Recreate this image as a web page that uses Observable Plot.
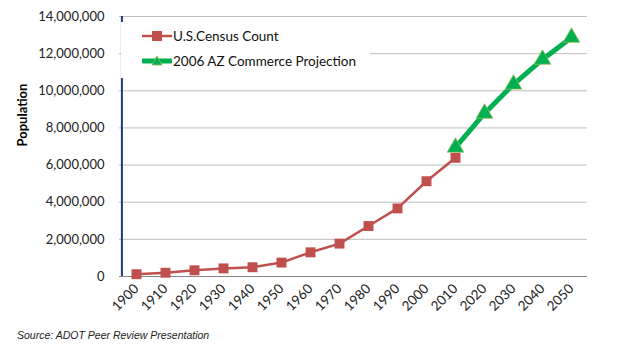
<!DOCTYPE html>
<html>
<head>
<meta charset="utf-8">
<script src="https://cdn.jsdelivr.net/npm/d3@7"></script>
<script src="https://cdn.jsdelivr.net/npm/@observablehq/plot@0.6"></script>
<style>
  body { margin: 0; background: #fff; font-family: Lato, "Open Sans", sans-serif; }
  #wrap { position: relative; width: 624px; height: 344px; }
  #legend { position: absolute; left: 121px; top: 22px; width: 249px; height: 56px; background: #fff; font-size: 13.5px; color: #111; }
  .item { position: absolute; left: 21px; display: flex; align-items: center; }
  .item svg { margin-right: 1px; }
  #caption { position: absolute; left: 17px; top: 329px; font-family: "Liberation Sans", Arial, sans-serif; font-style: italic; font-size: 10.5px; color: #222; }
</style>
</head>
<body>
<div id="wrap">
  <div id="chart"></div>
  <div id="legend">
    <div class="item" style="top:6px">
      <svg width="30" height="14"><line x1="0" x2="30" y1="7" y2="7" stroke="#c0504d" stroke-width="2.5"/><rect x="10" y="2" width="10" height="10" fill="#c0504d"/></svg>
      <span>U.S.Census Count</span>
    </div>
    <div class="item" style="top:31px">
      <svg width="30" height="14"><line x1="1" x2="29" y1="7" y2="7" stroke="#00b050" stroke-width="5" stroke-linecap="round"/><path d="M15,2 L20,11 L10,11 Z" fill="#00b050" stroke="#9bbb59" stroke-width="0.8"/></svg>
      <span>2006 AZ Commerce Projection</span>
    </div>
  </div>
  <div id="caption">Source: ADOT Peer Review Presentation</div>
</div>
<script>
const years = [1900, 1910, 1920, 1930, 1940, 1950, 1960, 1970, 1980, 1990, 2000, 2010, 2020, 2030, 2040, 2050];
const censusYears = [1900, 1910, 1920, 1930, 1940, 1950, 1960, 1970, 1980, 1990, 2000, 2010];
const censusValues = [122931, 204354, 334162, 435573, 499261, 749587, 1302161, 1770900, 2718215, 3665228, 5130632, 6392017];
const projYears = [2010, 2020, 2030, 2040, 2050];
const projValues = [6950000, 8780000, 10350000, 11690000, 12870000];
const yTicks = [0, 2000000, 4000000, 6000000, 8000000, 10000000, 12000000, 14000000];

const census = censusYears.map((y, i) => ({year: y, value: censusValues[i]}));
const proj = projYears.map((y, i) => ({year: y, value: projValues[i]}));

const chart = Plot.plot({
  width: 624,
  height: 344,
  marginLeft: 119,
  marginRight: 37,
  marginTop: 16,
  marginBottom: 68,
  style: { fontFamily: "Lato, 'Open Sans', sans-serif", fontSize: "12.5px", color: "#222", background: "#fff" },
  x: { type: "point", domain: years, padding: 0.5, label: null },
  y: { domain: [0, 14000000], label: null },
  marks: [
    Plot.ruleY(yTicks.filter(d => d > 0), { stroke: "#bfbfbf", strokeWidth: 1 }),
    Plot.ruleY([0], { stroke: "#868686", strokeWidth: 1.2 }),
    Plot.axisY({ ticks: yTicks, tickFormat: d3.format(","), tickSize: 0, tickPadding: 15, label: null, fontSize: "13px" }),
    Plot.axisX({ tickRotate: -45, tickSize: 0, tickPadding: 10, label: null, fontSize: "13.5px", tickFormat: d => String(d) }),
    Plot.ruleX([years[0]], { stroke: "#1f3a7a", strokeWidth: 2, dx: -14.6 }),
    Plot.text(["Population"], { frameAnchor: "left", dx: -97, rotate: -90, fontWeight: "bold", fontSize: "13px", fill: "#000" }),
    Plot.line(census, { x: "year", y: "value", stroke: "#c0504d", strokeWidth: 2.5 }),
    Plot.dot(census, { x: "year", y: "value", symbol: "square", r: 5.6, fill: "#c0504d", stroke: "none" }),
    Plot.line(proj, { x: "year", y: "value", stroke: "#00b050", strokeWidth: 5 }),
    Plot.dot(proj, { x: "year", y: "value", symbol: "triangle", r: 6.2, fill: "#00b050", stroke: "#9bbb59", strokeWidth: 0.8 })
  ]
});
document.getElementById("chart").appendChild(chart);
</script>
</body>
</html>
